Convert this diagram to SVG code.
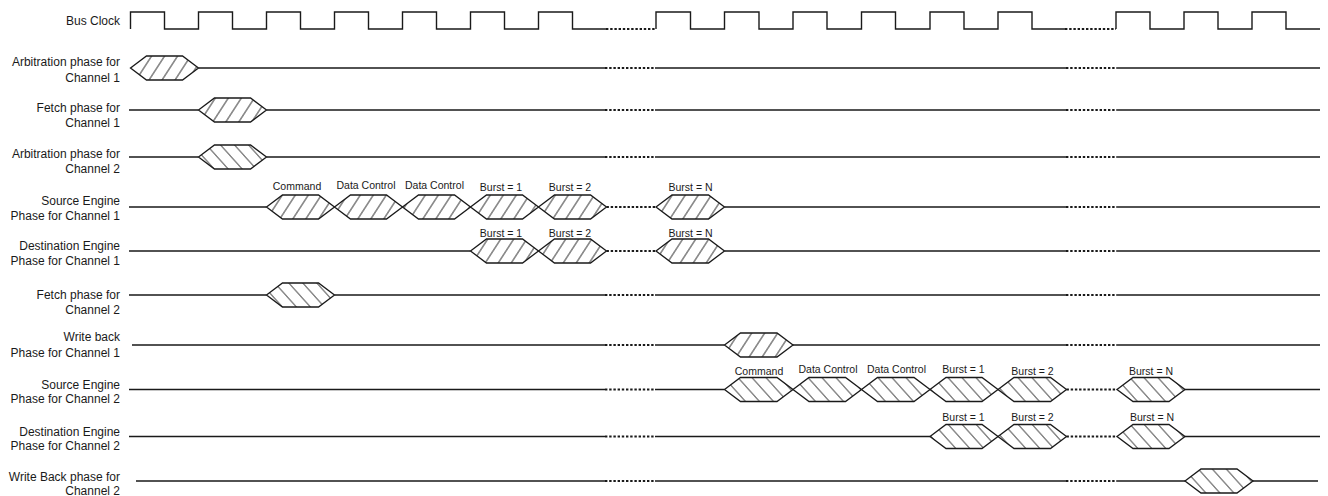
<svg xmlns="http://www.w3.org/2000/svg" width="1328" height="496" viewBox="0 0 1328 496">
<defs>
<pattern id="hatchF" patternUnits="userSpaceOnUse" width="13" height="30" patternTransform="skewX(-33)">
<line x1="6" y1="0" x2="6" y2="30" stroke="#1a1a1a" stroke-width="1"/>
</pattern>
<pattern id="hatchB" patternUnits="userSpaceOnUse" width="14" height="30" patternTransform="skewX(42)">
<line x1="6" y1="0" x2="6" y2="30" stroke="#1a1a1a" stroke-width="1"/>
</pattern>
<style>
.ln{stroke:#1a1a1a;stroke-width:1.4;fill:none}
.dt{stroke:#1a1a1a;stroke-width:2;stroke-dasharray:2.4 1.8;fill:none}
.hx{stroke:#1a1a1a;stroke-width:1.3;stroke-linejoin:miter}
.hf{fill:url(#hatchF)}
.hb{fill:url(#hatchB)}
.lbl{font-family:"Liberation Sans",Arial,sans-serif;font-size:12px;fill:#1a1a1a;text-anchor:end}
.sl{font-family:"Liberation Sans",Arial,sans-serif;font-size:10.5px;fill:#1a1a1a;text-anchor:middle}
</style>
</defs>
<rect width="1328" height="496" fill="#ffffff"/>

<g id="bus-clock">
<text class="lbl" x="120" y="25">Bus Clock</text>
<path class="ln" d="M130.5,29 V12 H164.5 V29 H198.5 V12 H232.5 V29 H266.5 V12 H300.5 V29 H334.5 V12 H368.5 V29 H402.5 V12 H436.5 V29 H470.5 V12 H504.5 V29 H538.5 V12 H572.5 V29 H606"/>
<path class="dt" d="M606,29 H656"/>
<path class="ln" d="M656,29 V12 H690.5 V29 H724.5 V12 H759 V29 H793 V12 H827 V29 H861.5 V12 H895.5 V29 H930 V12 H964 V29 H998 V12 H1032 V29 H1065"/>
<path class="dt" d="M1065,29 H1116"/>
<path class="ln" d="M1116,29 V12 H1150 V29 H1184 V12 H1218 V29 H1252 V12 H1286 V29 H1320"/>
</g>

<g id="arb-ch1">
<text class="lbl" x="120" y="66">Arbitration phase for</text>
<text class="lbl" x="120" y="82">Channel 1</text>
<polygon class="hx hf" points="130.5,68 146.5,56 182.5,56 198.5,68 182.5,80 146.5,80"/>
<path class="ln" d="M198.5,68 H605 M655,68 H1066 M1117,68 H1320"/>
<path class="dt" d="M605,68 H655 M1066,68 H1117"/>
</g>

<g id="fetch-ch1">
<text class="lbl" x="120" y="112">Fetch phase for</text>
<text class="lbl" x="120" y="127">Channel 1</text>
<polygon class="hx hf" points="198.5,110 214.5,98 250.5,98 266.5,110 250.5,122 214.5,122"/>
<path class="ln" d="M129,110 H198.5 M266.5,110 H605 M655,110 H1066 M1117,110 H1320"/>
<path class="dt" d="M605,110 H655 M1066,110 H1117"/>
</g>

<g id="arb-ch2">
<text class="lbl" x="120" y="158">Arbitration phase for</text>
<text class="lbl" x="120" y="173">Channel 2</text>
<polygon class="hx hb" points="198.5,157 214.5,145 250.5,145 266.5,157 250.5,169 214.5,169"/>
<path class="ln" d="M129,157 H198.5 M266.5,157 H605 M655,157 H1066 M1117,157 H1320"/>
<path class="dt" d="M605,157 H655 M1066,157 H1117"/>
</g>

<g id="src-ch1">
<text class="lbl" x="120" y="205">Source Engine</text>
<text class="lbl" x="120" y="220">Phase for Channel 1</text>
<path class="ln" d="M129,207 H266.5 M724.5,207 H1066 M1117,207 H1320"/>
<path class="dt" d="M606.5,207 H656 M1066,207 H1117"/>
<polygon class="hx hf" points="266.5,207 282.5,195 318.5,195 334.5,207 318.5,219 282.5,219"/>
<polygon class="hx hf" points="334.5,207 350.5,195 386.5,195 402.5,207 386.5,219 350.5,219"/>
<polygon class="hx hf" points="402.5,207 418.5,195 454.5,195 470.5,207 454.5,219 418.5,219"/>
<polygon class="hx hf" points="470.5,207 486.5,195 522.5,195 538.5,207 522.5,219 486.5,219"/>
<polygon class="hx hf" points="538.5,207 554.5,195 590.5,195 606.5,207 590.5,219 554.5,219"/>
<polygon class="hx hf" points="656,207 672,195 708.5,195 724.5,207 708.5,219 672,219"/>
<text class="sl" x="297" y="189.5">Command</text>
<text class="sl" x="366" y="188.5">Data Control</text>
<text class="sl" x="434.5" y="188.5">Data Control</text>
<text class="sl" x="501" y="191">Burst = 1</text>
<text class="sl" x="570" y="191">Burst = 2</text>
<text class="sl" x="690.5" y="191">Burst = N</text>
</g>

<g id="dst-ch1">
<text class="lbl" x="120" y="250">Destination Engine</text>
<text class="lbl" x="120" y="265">Phase for Channel 1</text>
<path class="ln" d="M129,251 H470.5 M724.5,251 H1066 M1117,251 H1320"/>
<path class="dt" d="M606.5,251 H656 M1066,251 H1117"/>
<polygon class="hx hf" points="470.5,251 486.5,239 522.5,239 538.5,251 522.5,263 486.5,263"/>
<polygon class="hx hf" points="538.5,251 554.5,239 590.5,239 606.5,251 590.5,263 554.5,263"/>
<polygon class="hx hf" points="656,251 672,239 708.5,239 724.5,251 708.5,263 672,263"/>
<text class="sl" x="501" y="237">Burst = 1</text>
<text class="sl" x="570" y="237">Burst = 2</text>
<text class="sl" x="690.5" y="237">Burst = N</text>
</g>

<g id="fetch-ch2">
<text class="lbl" x="120" y="299">Fetch phase for</text>
<text class="lbl" x="120" y="314">Channel 2</text>
<polygon class="hx hb" points="266.5,295 282.5,283 318.5,283 334.5,295 318.5,307 282.5,307"/>
<path class="ln" d="M129,295 H266.5 M334.5,295 H605 M655,295 H1066 M1117,295 H1320"/>
<path class="dt" d="M605,295 H655 M1066,295 H1117"/>
</g>

<g id="wb-ch1">
<text class="lbl" x="120" y="341">Write back</text>
<text class="lbl" x="120" y="357">Phase for Channel 1</text>
<polygon class="hx hf" points="724.5,345 740.5,333 777,333 793,345 777,357 740.5,357"/>
<path class="ln" d="M132,345 H605 M655,345 H724.5 M793,345 H1066 M1117,345 H1320"/>
<path class="dt" d="M605,345 H655 M1066,345 H1117"/>
</g>

<g id="src-ch2">
<text class="lbl" x="120" y="388.5">Source Engine</text>
<text class="lbl" x="120" y="402.5">Phase for Channel 2</text>
<path class="ln" d="M129,389.5 H605 M655,389.5 H724.5 M1185,389.5 H1320"/>
<path class="dt" d="M605,389.5 H655 M1066.5,389.5 H1117"/>
<polygon class="hx hb" points="724.5,389.5 740.5,377.5 777,377.5 793,389.5 777,401.5 740.5,401.5"/>
<polygon class="hx hb" points="793,389.5 809,377.5 845.5,377.5 861.5,389.5 845.5,401.5 809,401.5"/>
<polygon class="hx hb" points="861.5,389.5 877.5,377.5 914,377.5 930,389.5 914,401.5 877.5,401.5"/>
<polygon class="hx hb" points="930,389.5 946,377.5 982,377.5 998,389.5 982,401.5 946,401.5"/>
<polygon class="hx hb" points="998,389.5 1014,377.5 1050.5,377.5 1066.5,389.5 1050.5,401.5 1014,401.5"/>
<polygon class="hx hb" points="1117,389.5 1133,377.5 1169,377.5 1185,389.5 1169,401.5 1133,401.5"/>
<text class="sl" x="759" y="374.5">Command</text>
<text class="sl" x="828" y="373">Data Control</text>
<text class="sl" x="896.5" y="373">Data Control</text>
<text class="sl" x="963.5" y="373">Burst = 1</text>
<text class="sl" x="1032.5" y="374.5">Burst = 2</text>
<text class="sl" x="1151" y="374.5">Burst = N</text>
</g>

<g id="dst-ch2">
<text class="lbl" x="120" y="436">Destination Engine</text>
<text class="lbl" x="120" y="450">Phase for Channel 2</text>
<path class="ln" d="M129,436.5 H605 M655,436.5 H930 M1185,436.5 H1320"/>
<path class="dt" d="M605,436.5 H655 M1066.5,436.5 H1117"/>
<polygon class="hx hb" points="930,436.5 946,424.5 982,424.5 998,436.5 982,448.5 946,448.5"/>
<polygon class="hx hb" points="998,436.5 1014,424.5 1050.5,424.5 1066.5,436.5 1050.5,448.5 1014,448.5"/>
<polygon class="hx hb" points="1117,436.5 1133,424.5 1169,424.5 1185,436.5 1169,448.5 1133,448.5"/>
<text class="sl" x="963.5" y="421">Burst = 1</text>
<text class="sl" x="1032.5" y="421">Burst = 2</text>
<text class="sl" x="1152" y="421">Burst = N</text>
</g>

<g id="wb-ch2">
<text class="lbl" x="120" y="481">Write Back phase for</text>
<text class="lbl" x="120" y="495">Channel 2</text>
<polygon class="hx hb" points="1185,481 1201,469 1237,469 1253,481 1237,493 1201,493"/>
<path class="ln" d="M136,481 H605 M655,481 H1066 M1117,481 H1185 M1253,481 H1318"/>
<path class="dt" d="M605,481 H655 M1066,481 H1117"/>
</g>
</svg>
